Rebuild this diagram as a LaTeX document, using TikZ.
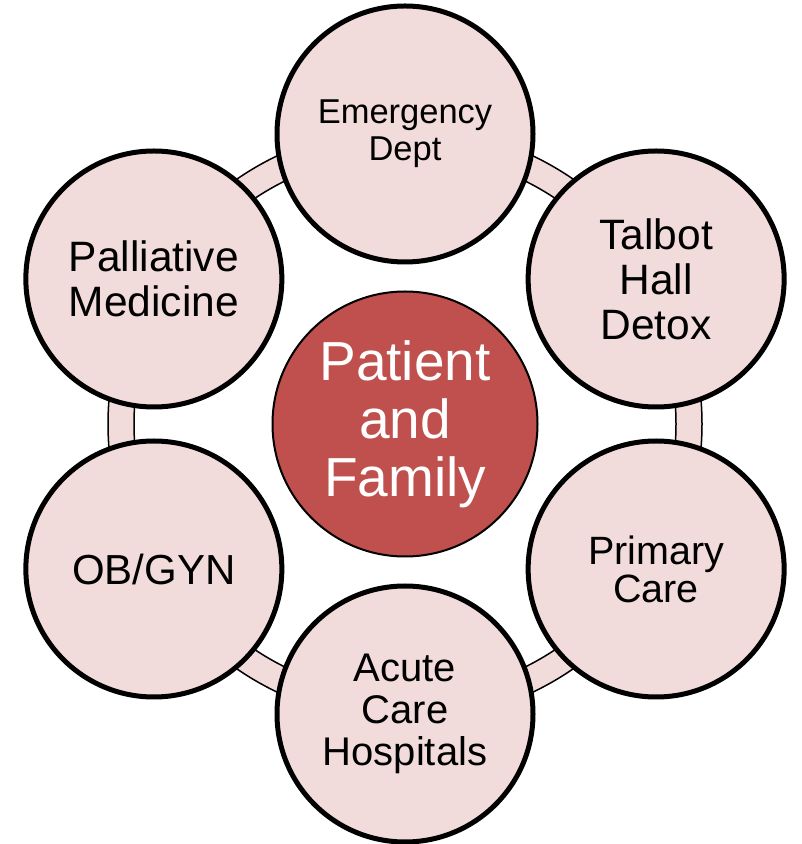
\documentclass[tikz,border=0pt]{standalone}
\usepackage{fontspec}
\setmainfont{Liberation Sans}
\usetikzlibrary{calc}
\definecolor{carepink}{HTML}{F2DCDB}
\definecolor{carered}{HTML}{C0504D}
\tikzset{
  partner/.style={circle, draw=black, line width=5pt, fill=carepink, minimum size=256pt, inner sep=0pt, align=center, text=black},
  hub/.style={circle, draw=black, line width=2pt, fill=carered, minimum size=265pt, inner sep=0pt, align=center, text=white, font=\fontsize{55}{58}\selectfont},
  band/.style={fill=carepink, draw=black, line width=1.5pt, even odd rule}
}
\begin{document}
\begin{tikzpicture}[x=1pt, y=1pt]
        \useasboundingbox (0,0) rectangle (802,844);
        \coordinate (mid) at (405,420);
        % ring that links the partners
        \path[band] (mid) circle (297pt) (mid) circle (271pt);
        \foreach \ang/\name/\fs/\bs/\txt in {
            90/emerg/34.5/37/{Emergency\\Dept},
            30/talbot/42.5/45/{Talbot\\Hall\\Detox},
            -30/primary/39.5/38/{Primary\\Care},
            -90/acute/40/42/{Acute\\Care\\Hospitals},
            -150/obgyn/42/45/{OB/GYN},
            150/palliative/42.5/45/{Palliative\\Medicine}}
          {
            \node[partner, font=\fontsize{\fs}{\bs}\selectfont] (\name) at ($(mid)+(\ang:290pt)$) {\txt};
          }
        \node[hub] (patient) at (mid) {Patient\\and\\Family};
    \end{tikzpicture}
\end{document}
